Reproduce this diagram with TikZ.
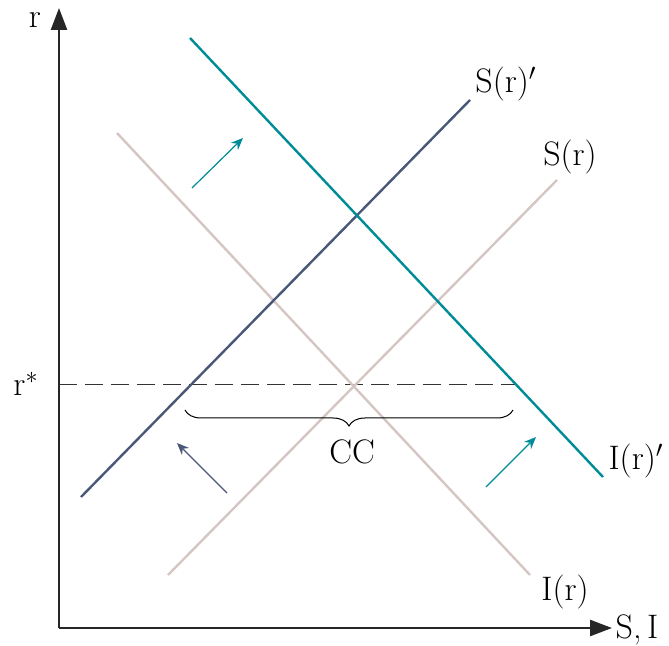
\documentclass[tikz,border=0pt]{standalone}
\usetikzlibrary{arrows.meta,decorations.pathreplacing}
\definecolor{tealc}{RGB}{0,140,150}
\definecolor{slatec}{RGB}{74,88,120}
\definecolor{lightc}{RGB}{212,198,194}
\begin{document}
\begin{tikzpicture}[x=0.5pt,y=-0.5pt,
  axis/.style={line width=1.3pt,draw=black!85,-{Triangle[length=11pt,width=8pt]}},
  curve/.style={line width=1.2pt},
  shiftarrow/.style={line width=0.6pt,-{Stealth[length=6pt,width=5pt]}},
  lbl/.style={font=\fontsize{17}{20}\selectfont,inner sep=1pt}]
\useasboundingbox (0,0) rectangle (669,646);
% axes
\coordinate (O) at (59,628);
\coordinate (ytop) at (59,8);
\coordinate (xend) at (612,628);
\draw[axis] (O) -- (ytop);
\draw[axis] (O) -- (xend);
\node[lbl] (rlab) at (35,20) {r};
\node[lbl] (rstar) at (26,384) {r$^{*}$};
\node[lbl] (SIlab) at (637,630) {S,\,I};
% dashed r*
\coordinate (d1) at (59,385);
\coordinate (d2) at (515,385);
\draw[dashed,dash pattern=on 9pt off 4pt,line width=0.5pt,black!80] (d1) -- (d2);
% curves
\coordinate (Sa) at (168,575); \coordinate (Sb) at (557,180);
\coordinate (Ia) at (117,133); \coordinate (Ib) at (530,575);
\coordinate (Spa) at (81,497); \coordinate (Spb) at (470,100);
\coordinate (Ipa) at (190,38); \coordinate (Ipb) at (603,477);
\draw[curve,lightc] (Sa) -- (Sb);
\draw[curve,lightc] (Ia) -- (Ib);
\draw[curve,slatec] (Spa) -- (Spb);
\draw[curve,tealc] (Ipa) -- (Ipb);
\node[lbl] (Slab) at (570,157) {S(r)};
\node[lbl] (Splab) at (506,84) {S(r)$'$};
\node[lbl] (Ilab) at (565,592) {I(r)};
\node[lbl] (Iplab) at (636,461) {I(r)$'$};
% brace
\coordinate (b1) at (513,410);
\coordinate (b2) at (185,410);
\draw[line width=0.5pt,decorate,decoration={brace,amplitude=8pt}] (b1) -- (b2);
\node[lbl] (CC) at (352,452) {CC};
% shift arrows
\coordinate (a1s) at (192,188); \coordinate (a1e) at (243,138);
\coordinate (a2s) at (227,493); \coordinate (a2e) at (177,443);
\coordinate (a3s) at (486,487); \coordinate (a3e) at (536,437);
\draw[shiftarrow,tealc] (a1s) -- (a1e);
\draw[shiftarrow,slatec] (a2s) -- (a2e);
\draw[shiftarrow,tealc] (a3s) -- (a3e);
\end{tikzpicture}
\end{document}
